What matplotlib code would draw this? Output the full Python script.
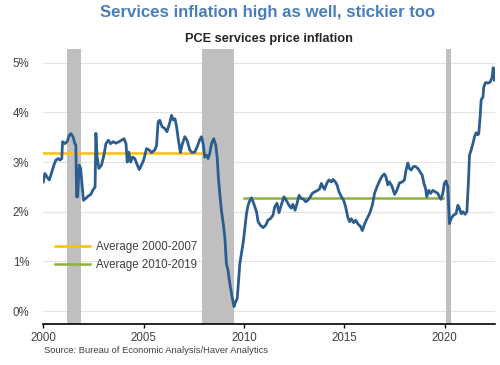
import matplotlib
matplotlib.use("Agg")
import matplotlib.pyplot as plt

plt.rcParams["font.family"] = ["Liberation Sans", "DejaVu Sans"]

# PCE services inflation, % y/y (decimal years)
years = [
    2000.00, 2000.08, 2000.20, 2000.30, 2000.42, 2000.53, 2000.63, 2000.75, 2000.83, 2000.92,
    2000.96, 2001.08, 2001.20, 2001.29, 2001.38, 2001.49, 2001.57, 2001.62, 2001.66, 2001.71,
    2001.79, 2001.86, 2001.94, 2002.00, 2002.12, 2002.25, 2002.37, 2002.46, 2002.58, 2002.62,
    2002.68, 2002.77, 2002.90, 2003.02, 2003.12, 2003.24, 2003.35, 2003.48, 2003.61, 2003.78,
    2003.90, 2004.02, 2004.12, 2004.18, 2004.26, 2004.35, 2004.45, 2004.56, 2004.68, 2004.78,
    2004.89, 2005.00, 2005.14, 2005.28, 2005.39, 2005.55, 2005.64, 2005.72, 2005.80, 2005.92,
    2006.04, 2006.16, 2006.29, 2006.39, 2006.47, 2006.56, 2006.64, 2006.72, 2006.83, 2006.93,
    2007.05, 2007.16, 2007.30, 2007.41, 2007.54, 2007.66, 2007.79, 2007.88, 2007.96, 2008.04,
    2008.13, 2008.21, 2008.29, 2008.38, 2008.49, 2008.59, 2008.66, 2008.72, 2008.79, 2008.87,
    2008.96, 2009.04, 2009.12, 2009.20, 2009.29, 2009.40, 2009.50, 2009.58, 2009.66, 2009.74,
    2009.79, 2009.87, 2009.96, 2010.03, 2010.12, 2010.20, 2010.28, 2010.37, 2010.48, 2010.62,
    2010.70, 2010.81, 2010.95, 2011.08, 2011.19, 2011.31, 2011.44, 2011.53, 2011.64, 2011.74,
    2011.85, 2011.99, 2012.10, 2012.24, 2012.35, 2012.43, 2012.54, 2012.64, 2012.74, 2012.85,
    2012.97, 2013.07, 2013.18, 2013.30, 2013.40, 2013.51, 2013.63, 2013.76, 2013.85, 2013.93,
    2014.01, 2014.13, 2014.23, 2014.35, 2014.43, 2014.55, 2014.63, 2014.73, 2014.85, 2014.96,
    2015.06, 2015.17, 2015.26, 2015.34, 2015.46, 2015.56, 2015.68, 2015.79, 2015.89, 2016.01,
    2016.12, 2016.25, 2016.39, 2016.50, 2016.62, 2016.75, 2016.88, 2016.99, 2017.07, 2017.16,
    2017.24, 2017.36, 2017.50, 2017.61, 2017.74, 2017.88, 2017.99, 2018.07, 2018.16, 2018.24,
    2018.32, 2018.44, 2018.54, 2018.66, 2018.77, 2018.87, 2018.96, 2019.04, 2019.10, 2019.20,
    2019.29, 2019.40, 2019.53, 2019.65, 2019.73, 2019.81, 2019.90, 2019.98, 2020.06, 2020.15,
    2020.20, 2020.23, 2020.31, 2020.43, 2020.56, 2020.65, 2020.73, 2020.81, 2020.90, 2021.01,
    2021.10, 2021.18, 2021.23, 2021.31, 2021.40, 2021.48, 2021.56, 2021.64, 2021.69, 2021.76,
    2021.81, 2021.90, 2021.94, 2022.03, 2022.15, 2022.26, 2022.36, 2022.41, 2022.47,
]
inflation = [
    2.60, 2.77, 2.69, 2.64, 2.80, 2.94, 3.04, 3.07, 3.04, 3.07,
    3.41, 3.37, 3.42, 3.54, 3.57, 3.50, 3.37, 3.35, 2.30, 2.30,
    2.94, 2.87, 2.50, 2.23, 2.27, 2.32, 2.35, 2.43, 2.50, 3.58,
    3.10, 2.87, 2.94, 3.14, 3.37, 3.44, 3.37, 3.41, 3.38, 3.41,
    3.44, 3.47, 3.37, 3.00, 3.20, 3.00, 3.10, 3.07, 2.94, 2.85,
    2.94, 3.04, 3.27, 3.24, 3.19, 3.24, 3.33, 3.81, 3.84, 3.71,
    3.68, 3.61, 3.78, 3.94, 3.85, 3.87, 3.71, 3.47, 3.19, 3.37,
    3.51, 3.44, 3.24, 3.19, 3.20, 3.30, 3.45, 3.51, 3.37, 3.10,
    3.14, 3.07, 3.17, 3.37, 3.47, 3.34, 3.10, 2.70, 2.37, 2.03,
    1.77, 1.50, 0.96, 0.82, 0.56, 0.29, 0.09, 0.19, 0.25, 0.69,
    0.96, 1.16, 1.39, 1.63, 1.96, 2.13, 2.22, 2.28, 2.17, 2.00,
    1.80, 1.73, 1.68, 1.73, 1.83, 1.86, 1.93, 2.10, 2.17, 1.98,
    2.13, 2.30, 2.23, 2.13, 2.07, 2.15, 2.03, 2.17, 2.33, 2.27,
    2.25, 2.20, 2.23, 2.30, 2.37, 2.40, 2.42, 2.46, 2.57, 2.50,
    2.45, 2.58, 2.64, 2.60, 2.65, 2.60, 2.54, 2.40, 2.30, 2.23,
    2.10, 1.88, 1.80, 1.86, 1.78, 1.83, 1.75, 1.71, 1.62, 1.76,
    1.86, 1.96, 2.13, 2.37, 2.50, 2.62, 2.72, 2.76, 2.70, 2.54,
    2.60, 2.52, 2.35, 2.43, 2.58, 2.60, 2.64, 2.84, 2.98, 2.87,
    2.84, 2.91, 2.91, 2.87, 2.80, 2.74, 2.57, 2.47, 2.30, 2.43,
    2.37, 2.43, 2.40, 2.37, 2.30, 2.25, 2.37, 2.57, 2.62, 2.50,
    2.03, 1.76, 1.86, 1.93, 1.96, 2.13, 2.07, 1.96, 2.00, 1.95,
    2.00, 2.64, 3.14, 3.24, 3.37, 3.51, 3.59, 3.55, 3.57, 3.91,
    4.25, 4.31, 4.51, 4.60, 4.59, 4.61, 4.71, 4.90, 4.65,
]

recessions = [(2001.2, 2001.9), (2007.92, 2009.5), (2020.08, 2020.33)]

avg_labels = ["Average 2000-2007", "Average 2010-2019"]
avg_values = [3.18, 2.27]
avg_spans = [(2000.0, 2007.95), (2010.0, 2019.9)]
avg_colors = ["#ffc000", "#8cb33f"]

fig = plt.figure(figsize=(5, 3.65), dpi=100)
ax = fig.add_axes([0.0866, 0.1123, 0.9034, 0.7527])

for start, end in recessions:
    ax.axvspan(start, end, color="#bfbfbf", lw=0, zorder=1)

for lab, val, (x0, x1), col in zip(avg_labels, avg_values, avg_spans, avg_colors):
    ax.plot([x0, x1], [val, val], color=col, lw=1.8, label=lab, zorder=2)

ax.plot(years, inflation, color="#2c5d8f", lw=2.0, zorder=3, solid_joinstyle="round")

ax.set_xlim(2000, 2022.5)
ax.set_ylim(-0.26, 5.27)
ax.set_yticks([0, 1, 2, 3, 4, 5])
ax.set_yticklabels([f"{v}%" for v in range(6)])
ax.set_xticks([2000, 2005, 2010, 2015, 2020])
ax.grid(axis="y", color="#e3e3e3", lw=0.8, zorder=0)
ax.set_axisbelow(True)

for side in ["top", "right", "left"]:
    ax.spines[side].set_visible(False)
ax.spines["bottom"].set_color("black")
ax.spines["bottom"].set_linewidth(1.2)
ax.tick_params(axis="y", length=0, pad=10, labelsize=8.3, labelcolor="#404040")
ax.tick_params(axis="x", length=3, width=1, pad=3, labelsize=8.3, labelcolor="#404040")

ax.set_title("PCE services price inflation", fontsize=9.2, fontweight="bold",
             color="#262626", pad=5)
fig.text(0.536, 0.953, "Services inflation high as well, stickier too", ha="center",
         va="baseline", fontsize=12.1, fontweight="bold", color="#4a7ebb")
fig.text(0.087, 0.033, "Source: Bureau of Economic Analysis/Haver Analytics",
         fontsize=6.75, color="#404040", va="baseline")

leg = ax.legend(loc="center left", bbox_to_anchor=(0.11, 1 - 256 / 365),
                bbox_transform=fig.transFigure, frameon=False, fontsize=8.3,
                handlelength=3.0, handletextpad=0.6, labelspacing=0.5,
                borderpad=0, borderaxespad=0)
for t in leg.get_texts():
    t.set_color("#404040")

fig.savefig("out.png", dpi=100)
